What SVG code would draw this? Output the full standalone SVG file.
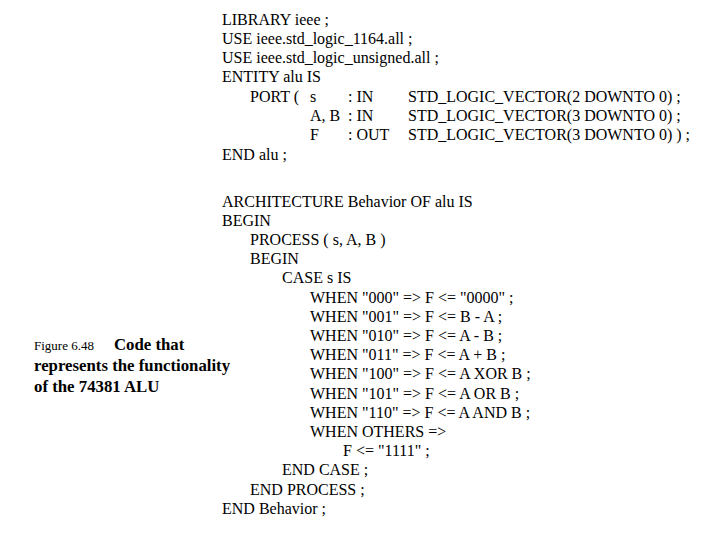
<svg xmlns="http://www.w3.org/2000/svg" width="720" height="540" viewBox="0 0 720 540">
<style>
text{font-family:"Liberation Serif","Times New Roman",serif;font-size:16px;fill:#000}
.c{font-size:16.8px;font-weight:bold}
.s{font-size:13px}
</style>
<rect width="720" height="540" fill="#fff"/>
<g id="code">
<text x="222" y="25">LIBRARY ieee ;</text>
<text x="222" y="44">USE ieee.std_logic_1164.all ;</text>
<text x="222" y="63">USE ieee.std_logic_unsigned.all ;</text>
<text x="222" y="82">ENTITY alu IS</text>
<text x="250" y="102">PORT (</text><text x="310" y="102">s</text><text x="348" y="102">: IN</text><text x="408" y="102">STD_LOGIC_VECTOR(2 DOWNTO 0) ;</text>
<text x="310" y="121">A, B</text><text x="348" y="121">: IN</text><text x="408" y="121">STD_LOGIC_VECTOR(3 DOWNTO 0) ;</text>
<text x="310" y="140">F</text><text x="348" y="140">: OUT</text><text x="408" y="140">STD_LOGIC_VECTOR(3 DOWNTO 0) ) ;</text>
<text x="222" y="160">END alu ;</text>
<text x="222" y="207">ARCHITECTURE Behavior OF alu IS</text>
<text x="222" y="226">BEGIN</text>
<text x="250" y="245">PROCESS ( s, A, B )</text>
<text x="250" y="264">BEGIN</text>
<text x="282" y="283">CASE s IS</text>
<text x="310" y="303">WHEN "000" =&gt; F &lt;= "0000" ;</text>
<text x="310" y="322">WHEN "001" =&gt; F &lt;= B - A ;</text>
<text x="310" y="341">WHEN "010" =&gt; F &lt;= A - B ;</text>
<text x="310" y="360">WHEN "011" =&gt; F &lt;= A + B ;</text>
<text x="310" y="379">WHEN "100" =&gt; F &lt;= A XOR B ;</text>
<text x="310" y="399">WHEN "101" =&gt; F &lt;= A OR B ;</text>
<text x="310" y="418">WHEN "110" =&gt; F &lt;= A AND B ;</text>
<text x="310" y="437">WHEN OTHERS =&gt;</text>
<text x="343" y="456">F &lt;= "1111" ;</text>
<text x="282" y="475">END CASE ;</text>
<text x="250" y="495">END PROCESS ;</text>
<text x="222" y="514">END Behavior ;</text>
</g>
<g id="caption">
<text x="34" y="350"><tspan class="s">Figure 6.48</tspan><tspan class="c" dx="20">Code that</tspan></text>
<text class="c" x="34" y="371">represents the functionality</text>
<text class="c" x="34" y="392">of the 74381 ALU</text>
</g>
</svg>
